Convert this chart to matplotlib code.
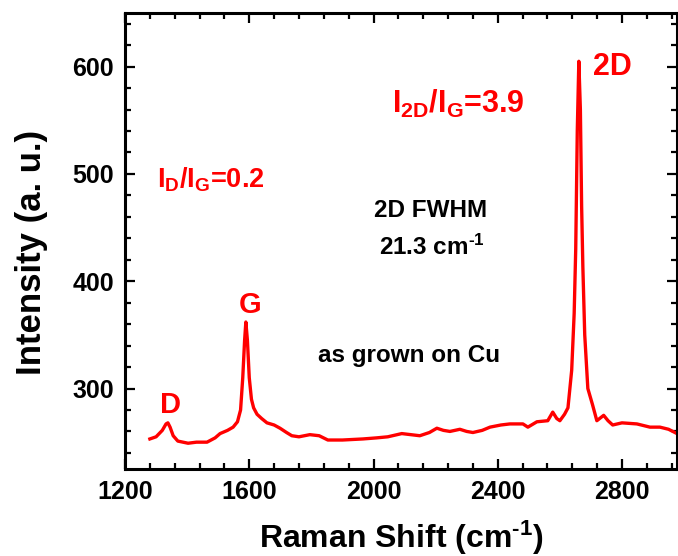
import matplotlib.pyplot as plt
from matplotlib.ticker import MultipleLocator

plt.rcParams['font.family'] = ['Liberation Sans', 'DejaVu Sans']
plt.rcParams['font.weight'] = 'bold'
plt.rcParams['mathtext.fontset'] = 'custom'
plt.rcParams['mathtext.rm'] = 'Liberation Sans:bold'
plt.rcParams['mathtext.bf'] = 'Liberation Sans:bold'
plt.rcParams['mathtext.it'] = 'Liberation Sans:bold'

# Raman spectrum, values
raman_shift = [1280, 1300, 1320, 1332, 1338, 1345, 1355, 1370, 1403, 1430,
               1464, 1490, 1506, 1530, 1548, 1562, 1572, 1579, 1585, 1589,
               1594, 1600, 1607, 1614, 1625, 1640, 1657, 1680, 1699, 1720,
               1737, 1760, 1795, 1825, 1853, 1900, 1966, 2010, 2046, 2091,
               2120, 2149, 2180, 2204, 2225, 2246, 2278, 2300, 2320, 2350,
               2375, 2410, 2439, 2481, 2497, 2526, 2561, 2577, 2590, 2600,
               2615, 2626, 2638, 2646, 2651, 2656, 2661, 2666, 2670, 2674,
               2680, 2690, 2705, 2719, 2741, 2755, 2770, 2800, 2848, 2890,
               2922, 2950, 2977]
intensity = [253, 255, 261, 267, 268, 264, 256, 251, 249, 250,
             250, 254, 258, 261, 264, 269, 280, 310, 345, 362,
             345, 310, 290, 282, 276, 272, 268, 266, 263, 259,
             256, 255, 257, 256, 252, 252, 253, 254, 255, 258,
             257, 256, 259, 263, 261, 260, 262, 260, 259, 261,
             264, 266, 267, 267, 264, 269, 270, 278, 272, 270,
             276, 282, 317, 370, 430, 540, 605, 560, 470, 413,
             350, 300, 285, 270, 275, 270, 266, 268, 267, 264,
             264, 262, 258]

red = '#ff0000'

fig = plt.figure(figsize=(6.78, 5.56), dpi=100)
ax = fig.add_axes([0.1844, 0.1565, 0.8141, 0.8201])

ax.plot(raman_shift, intensity, color=red, lw=2.4)

ax.set_xlim(1200, 2977)
ax.set_ylim(225, 650)
ax.xaxis.set_major_locator(MultipleLocator(400))
ax.xaxis.set_minor_locator(MultipleLocator(80))
ax.yaxis.set_major_locator(MultipleLocator(100))
ax.yaxis.set_minor_locator(MultipleLocator(20))
ax.set_yticks([300, 400, 500, 600])

for s in ax.spines.values():
    s.set_linewidth(2.2)
ax.tick_params(which='both', direction='in', top=True, right=True, width=1.6)
ax.tick_params(which='major', length=7, labelsize=18, pad=8)
ax.tick_params(which='minor', length=4)

ax.set_xlabel(r'Raman Shift (cm$^{\text{-1}}$)', fontsize=23, fontweight='bold')
ax.xaxis.set_label_coords(0.5, -0.108)
ax.set_ylabel('Intensity (a. u.)', fontsize=25, fontweight='bold', va='center', ha='center')
ax.yaxis.set_label_coords(-0.17, 0.474)

# peak labels and notes
ax.text(1304, 487, r'I$_{\mathrm{D}}$/I$_{\mathrm{G}}$=0.2', color=red, fontsize=19.5,
        ha='left', va='baseline')
ax.text(2060, 557, r'I$_{\mathrm{2D}}$/I$_{\mathrm{G}}$=3.9', color=red, fontsize=22,
        ha='left', va='baseline')
ax.text(2706, 592, '2D', color=red, fontsize=22, ha='left', va='baseline')
ax.text(1602, 370, 'G', color=red, fontsize=21, ha='center', va='baseline')
ax.text(1348, 277, 'D', color=red, fontsize=21, ha='center', va='baseline')
ax.text(2185, 460, '2D FWHM', fontsize=17.5, ha='center', va='baseline')
ax.text(2188, 424.5, r'21.3 cm$^{\text{-1}}$', fontsize=17.5, ha='center', va='baseline')
ax.text(1821, 325, 'as grown on Cu', fontsize=17.5, ha='left', va='baseline')

fig.savefig('out.png', dpi=100)
